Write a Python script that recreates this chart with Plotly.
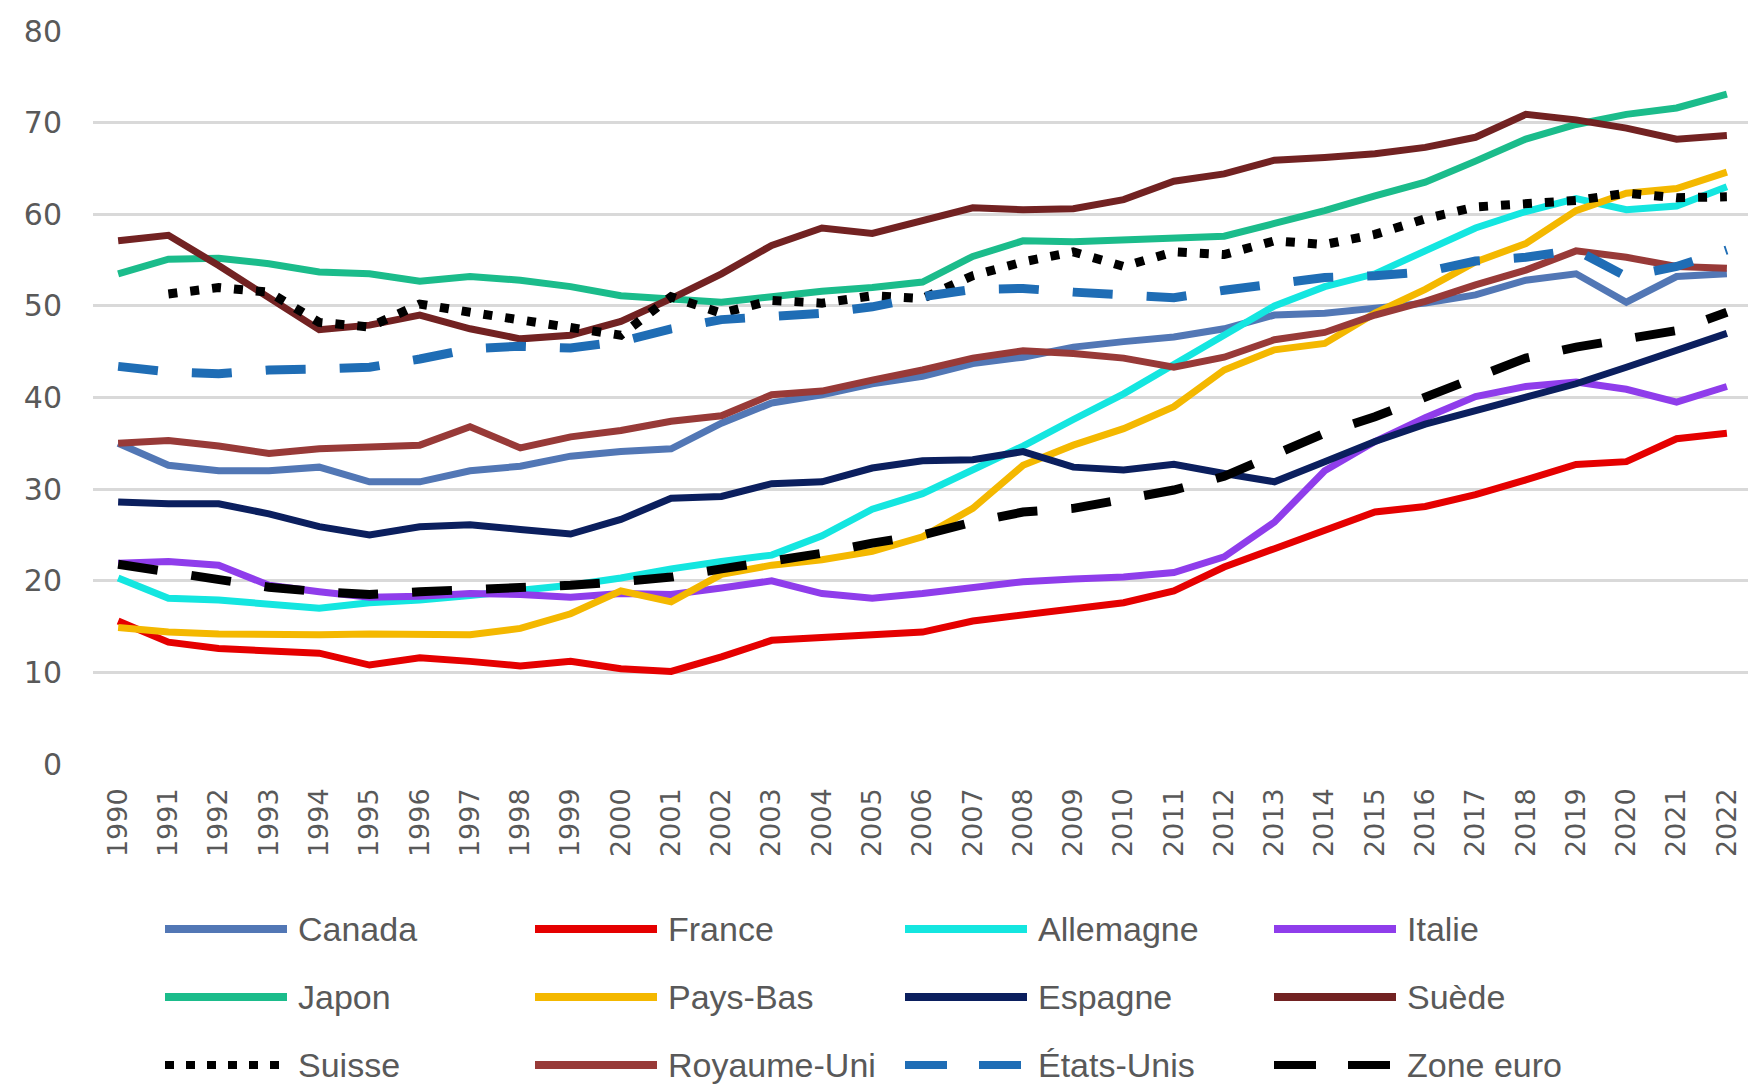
import plotly.graph_objects as go

# Years shown on the category axis
years = [str(y) for y in range(1990, 2023)]

# Series values, one list per country (1990 → 2022)
canada = [35.0, 32.6, 32.0, 32.0, 32.4, 30.8, 30.8, 32.0, 32.5, 33.6, 34.1, 34.4, 37.2,
          39.4, 40.3, 41.5, 42.3, 43.7, 44.4, 45.5, 46.1, 46.6, 47.5, 49.0, 49.2, 49.7,
          50.3, 51.2, 52.8, 53.5, 50.4, 53.2, 53.5]
france = [15.6, 13.3, 12.6, 12.4, 12.1, 10.8, 11.6, 11.2, 10.7, 11.2, 10.4, 10.1, 11.7,
          13.5, 13.8, 14.1, 14.4, 15.6, 16.3, 16.9, 17.6, 18.9, 21.5, 23.5, 25.4, 27.5,
          28.1, 29.4, 31.0, 32.7, 33.0, 35.5, 36.1]
allemagne = [20.3, 18.1, 17.9, 17.5, 17.0, 17.6, 17.9, 18.4, 19.0, 19.5, 20.3, 21.3, 22.1,
             22.8, 24.9, 27.8, 29.5, 32.1, 34.7, 37.6, 40.4, 43.6, 46.8, 50.0, 52.1, 53.5,
             56.0, 58.5, 60.3, 61.7, 60.5, 60.9, 63.0]
italie = [21.9, 22.1, 21.7, 19.5, 18.8, 18.2, 18.3, 18.6, 18.5, 18.2, 18.6, 18.5, 19.2,
          20.0, 18.6, 18.1, 18.6, 19.3, 19.9, 20.2, 20.4, 20.9, 22.6, 26.4, 32.0, 35.2,
          37.8, 40.1, 41.2, 41.7, 40.9, 39.5, 41.2]
japon = [53.5, 55.1, 55.2, 54.6, 53.7, 53.5, 52.7, 53.2, 52.8, 52.1, 51.1, 50.8, 50.4,
         51.0, 51.6, 52.0, 52.6, 55.4, 57.1, 57.0, 57.2, 57.4, 57.6, 59.0, 60.4, 62.0,
         63.5, 65.8, 68.2, 69.8, 70.9, 71.6, 73.1]
pays_bas = [14.9, 14.4, 14.2, 14.1, 14.1, 14.2, 14.1, 14.1, 14.8, 16.4, 18.9, 17.7, 20.7,
            21.7, 22.3, 23.2, 24.8, 27.9, 32.6, 34.8, 36.6, 39.0, 43.0, 45.2, 45.9, 49.2,
            51.8, 54.8, 56.8, 60.4, 62.3, 62.8, 64.6]
espagne = [28.6, 28.4, 28.4, 27.3, 25.9, 25.0, 25.9, 26.1, 25.6, 25.1, 26.7, 29.0, 29.2,
           30.6, 30.8, 32.3, 33.1, 33.2, 34.1, 32.4, 32.1, 32.7, 31.7, 30.8, 33.0, 35.2,
           37.1, 38.6, 40.0, 41.5, 43.3, 45.2, 47.0]
suede = [57.1, 57.7, 54.4, 51.0, 47.4, 47.9, 49.0, 47.5, 46.4, 46.8, 48.3, 50.8, 53.5,
         56.6, 58.5, 57.9, 59.3, 60.7, 60.5, 60.6, 61.6, 63.6, 64.4, 65.9, 66.2, 66.6,
         67.3, 68.4, 70.9, 70.3, 69.4, 68.2, 68.6]
suisse = [None, 51.3, 52.0, 51.5, 48.2, 47.7, 50.2, 49.3, 48.5, 47.8, 46.8, 51.0, 49.2,
          50.6, 50.3, 51.1, 50.8, 53.3, 54.8, 55.9, 54.3, 55.9, 55.6, 57.1, 56.7, 57.8,
          59.5, 60.8, 61.2, 61.5, 62.3, 61.8, 61.9]
royaume_uni = [35.0, 35.3, 34.7, 33.9, 34.4, 34.6, 34.8, 36.8, 34.5, 35.7, 36.4, 37.4, 38.0,
               40.3, 40.7, 41.9, 43.0, 44.3, 45.1, 44.8, 44.3, 43.3, 44.4, 46.3, 47.1, 49.0,
               50.5, 52.3, 53.9, 56.0, 55.3, 54.3, 54.1]
etats_unis = [43.4, 42.8, 42.6, 43.0, 43.1, 43.3, 44.2, 45.3, 45.6, 45.4, 46.1, 47.5, 48.5,
              48.8, 49.2, 49.9, 51.0, 51.8, 51.9, 51.5, 51.1, 50.9, 51.7, 52.4, 53.1, 53.3,
              53.7, 54.9, 55.3, 56.1, 53.2, 54.3, 56.1]
zone_euro = [21.8, 21.0, 20.2, 19.3, 18.8, 18.5, 18.8, 19.0, 19.1, 19.5, 19.9, 20.4, 21.3,
             22.1, 23.0, 24.1, 25.0, 26.4, 27.5, 27.9, 29.0, 29.9, 31.4, 33.7, 36.1, 37.9,
             40.0, 42.3, 44.3, 45.5, 46.3, 47.3, 49.3]

y_ticks = [0, 10, 20, 30, 40, 50, 60, 70, 80]

# name, values, colour, width, dash  (legend order = drawing order)
series = [
    ("Canada", canada, "#5277B5", 7, "solid"),
    ("France", france, "#E50000", 7, "solid"),
    ("Allemagne", allemagne, "#14E6E0", 7, "solid"),
    ("Italie", italie, "#8F3DEB", 7, "solid"),
    ("Japon", japon, "#1BBC8B", 7, "solid"),
    ("Pays-Bas", pays_bas, "#F4B800", 7, "solid"),
    ("Espagne", espagne, "#0B1F5E", 7, "solid"),
    ("Suède", suede, "#722222", 7, "solid"),
    ("Suisse", suisse, "#000000", 9, "9px,13px"),
    ("Royaume-Uni", royaume_uni, "#983A38", 7, "solid"),
    ("États-Unis", etats_unis, "#1F6DB5", 9, "40px,34px"),
    ("Zone euro", zone_euro, "#000000", 9, "40px,34px"),
]

fig = go.Figure()
for name, vals, color, width, dash in series:
    fig.add_trace(go.Scatter(
        x=years, y=vals, name=name, mode="lines",
        line=dict(color=color, width=width, dash=dash),
        connectgaps=False, showlegend=False,
    ))

W, H = 1748, 1090
ML, MR, MT, MB = 93, 0, 31, 326
plot_w = W - ML - MR
plot_h = H - MT - MB

# Hand-built legend: 4 columns x 3 rows with long line samples
legend_shapes = []
legend_notes = []
col_x0 = [165, 535, 905, 1274]
row_y = [929, 997, 1065]
sample_len = 122
legend_dash = {"Suisse": "9px,12px", "États-Unis": "42px,32px", "Zone euro": "42px,32px"}
for i, (name, vals, color, width, dash) in enumerate(series):
    r, c = divmod(i, 4)
    x0 = (col_x0[c] - ML) / plot_w
    x1 = (col_x0[c] + sample_len - ML) / plot_w
    yp = (MT + plot_h - row_y[r]) / plot_h
    legend_shapes.append(dict(
        type="line", xref="paper", yref="paper", x0=x0, x1=x1, y0=yp, y1=yp,
        line=dict(color=color, width=8, dash=legend_dash.get(name, "solid")),
    ))
    legend_notes.append(dict(
        xref="paper", yref="paper", x=(col_x0[c] + sample_len + 9 - ML) / plot_w, y=yp,
        text=name, showarrow=False, xanchor="left", yanchor="middle",
        font=dict(family="Liberation Sans, Arial, sans-serif", size=34, color="#595959"),
    ))

fig.update_layout(
    width=W, height=H,
    margin=dict(l=ML, r=MR, t=MT, b=MB, pad=0),
    paper_bgcolor="white", plot_bgcolor="white",
    showlegend=False,
    shapes=legend_shapes,
    annotations=legend_notes,
    xaxis=dict(
        type="category", range=[-0.5, 32.42],
        tickangle=-90, showgrid=False, showline=False, zeroline=False,
        ticks="", ticklabelstandoff=18,
        tickfont=dict(family="DejaVu Sans, sans-serif", size=27, color="#595959"),
        fixedrange=True,
    ),
    yaxis=dict(
        range=[0, 80], tickvals=y_ticks, showgrid=True,
        gridcolor="#D9D9D9", gridwidth=2.5, zeroline=False, showline=False,
        ticks="", ticklabelstandoff=30,
        tickfont=dict(family="DejaVu Sans, sans-serif", size=30, color="#595959"),
        fixedrange=True,
    ),
)

fig.write_html("out.html")
